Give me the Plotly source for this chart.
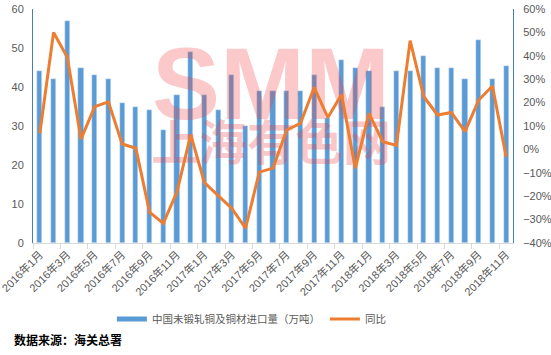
import plotly.graph_objects as go

months = [f"{y}年{m}月" for y in (2016, 2017, 2018) for m in range(1, 13)][:35]
imports = [44, 42, 57, 45, 43, 42, 36, 35, 34, 29, 38, 49,
           38, 34, 43, 30, 39, 39, 39, 39, 43, 32, 47, 45,
           44, 35, 44, 44, 48, 45, 45, 42, 52, 42, 45.5]
yoy = [6.9, 50, 39.4, 4.4, 18.3, 20.3, 2.3, 0.5, -26.8, -31.6, -18.1, 6.3,
       -14.2, -19.9, -25.2, -33.7, -9.7, -8, 8.3, 11.1, 26.5, 13.6, 23.5, -8.1,
       15.4, 3.3, 1.7, 46.5, 22.5, 14.7, 15.8, 7.6, 21.1, 27.1, -3.1]
bar_name = "中国未锻轧铜及铜材进口量（万吨）"
line_name = "同比"
source = "数据来源：海关总署"

idx = list(range(len(months)))
BLUE = "#5B9BD5"
ORANGE = "#ED7D31"
CJK = "Noto Sans CJK SC"
FONT = "Liberation Sans, Noto Sans CJK SC"
WM = "rgba(240,60,60,0.28)"
TICKFONT = dict(size=11, color="#595959", family=FONT)

fig = go.Figure()
fig.add_trace(go.Bar(x=idx, y=imports, marker_color=BLUE, width=0.38,
                     showlegend=False, hoverinfo="skip", yaxis="y"))
# watermark between bars and line
fig.add_trace(go.Scatter(x=[16.85, 16.85], y=[38.3, 24.4], mode="text",
                         text=["SMM", "上海有色网"],
                         textfont=dict(size=[102, 48], color=WM,
                                       family=["Liberation Sans", CJK],
                                       weight="bold"),
                         showlegend=False, hoverinfo="skip", yaxis="y"))
# legend proxies
fig.add_trace(go.Scatter(x=[None], y=[None], mode="lines", name=bar_name,
                         line=dict(color=BLUE, width=5), yaxis="y"))
fig.add_trace(go.Scatter(x=idx, y=yoy, mode="lines", name=line_name,
                         line=dict(color=ORANGE, width=3), yaxis="y2"))

fig.update_layout(
    width=551, height=355,
    margin=dict(l=33, r=38, t=9, b=112, autoexpand=False),
    paper_bgcolor="white", plot_bgcolor="white",
    font=dict(family=FONT, size=11, color="#595959"),
    bargap=0,
    xaxis=dict(range=[-0.5, 34.5], tickvals=idx[::2], ticktext=months[::2],
               tickangle=-45, ticks="", showgrid=False, zeroline=False,
               automargin=False, ticklabeloverflow="allow",
               showline=True, linecolor="#D9D9D9", linewidth=1,
               tickfont=TICKFONT,
               minor=dict(tick0=-0.5, dtick=2, ticks="outside", ticklen=5,
                          tickcolor="#D9D9D9", showgrid=False)),
    yaxis=dict(range=[0, 60.01], dtick=10, showgrid=False, zeroline=False,
               automargin=False, ticklabeloverflow="allow",
               ticklabelstandoff=6,
               showline=True, linecolor="#4A7EBB", linewidth=1,
               ticks="", tickfont=TICKFONT),
    yaxis2=dict(range=[-40, 60.01], dtick=10, ticksuffix="%", overlaying="y",
                side="right", showgrid=False, zeroline=False,
                automargin=False, ticklabeloverflow="allow",
                ticklabelstandoff=7,
                showline=True, linecolor="#4A7EBB", linewidth=1,
                ticks="", tickfont=TICKFONT),
    legend=dict(orientation="h", x=0.455, xanchor="center", y=-0.325,
                yanchor="middle",
                font=dict(size=10.5, color="#595959", family=FONT),
                bgcolor="rgba(0,0,0,0)"),
    annotations=[dict(text=f"<b>{source}</b>", xref="paper", yref="paper",
                      x=-0.04375, y=-0.4145, xanchor="left", yanchor="middle",
                      showarrow=False,
                      font=dict(size=12, color="#000000", family=CJK))],
)

fig.write_html("out.html", config={"displayModeBar": False},
               post_script="document.body.style.margin='0';"
                           "document.body.style.overflow='hidden';")
